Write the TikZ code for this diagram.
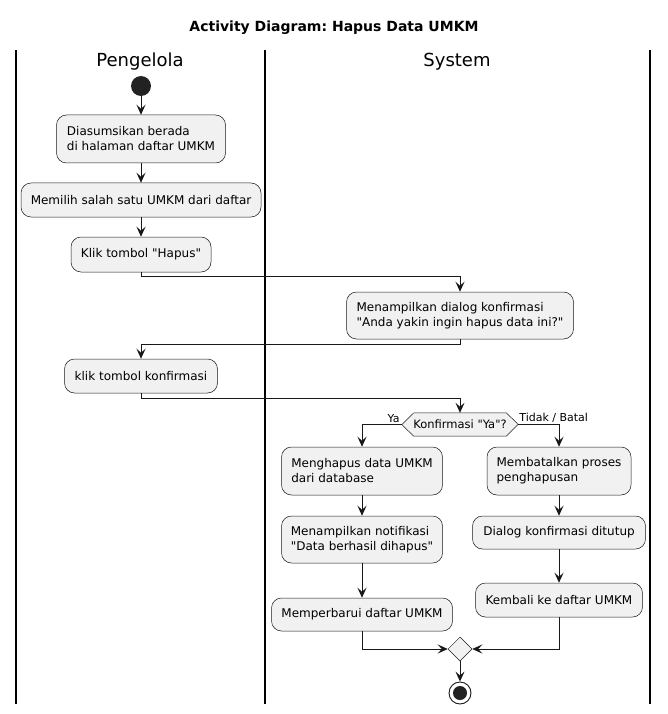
\documentclass[tikz,border=0pt]{standalone}
\usepackage{fontspec}
\setmainfont{DejaVu Sans}
\usetikzlibrary{arrows.meta,calc,shapes.geometric}
\definecolor{actfill}{HTML}{F1F1F1}
\definecolor{ink}{HTML}{181818}
\definecolor{dot}{HTML}{222222}
\newcommand{\qt}{\textquotedbl}
\frenchspacing
\begin{document}
\begin{tikzpicture}[x=1pt,y=-1pt,
  act/.style={draw=ink, fill=actfill, rounded corners=10pt, line width=0.5pt,
    inner sep=0pt, font=\fontsize{12}{15}\selectfont, align=left},
  flow/.style={draw=ink, line width=0.9pt,
    -{Stealth[length=10pt,width=9pt,inset=4pt]}},
  lane/.style={draw=black, line width=1.3pt},
  lanehead/.style={font=\fontsize{18}{20}\selectfont},
  lbl/.style={font=\fontsize{11}{13}\selectfont, inner sep=1pt},
]
\useasboundingbox (0,0) rectangle (668,714);

% title and swimlanes
\node (title) at (334,28) {\fontsize{14}{16}\selectfont\bfseries Activity Diagram: Hapus Data UMKM};
\draw[lane] (16,50) -- (16,704);
\draw[lane] (265,50) -- (265,704);
\draw[lane] (650,50) -- (650,704);
\node[lanehead] (hPeng) at (140,62) {Pengelola};
\node[lanehead] (hSys) at (457,62) {System};

% Pengelola lane
\node[circle, fill=dot, minimum size=20pt, inner sep=0pt] (start) at (141,86) {};
\node[act, minimum width=169pt, minimum height=48pt] (b1) at (141,139)
  {Diasumsikan berada\\di halaman daftar UMKM};
\node[act, minimum width=240pt, minimum height=34pt] (b2) at (141,200)
  {Memilih salah satu UMKM dari daftar};
\node[act, minimum width=140pt, minimum height=35pt] (b3) at (141,254.5)
  {Klik tombol \qt Hapus\qt};
\node[act, minimum width=153pt, minimum height=34pt] (b5) at (141,376)
  {klik tombol konfirmasi};

% System lane
\node[act, minimum width=227pt, minimum height=47pt] (b4) at (460,315.5)
  {Menampilkan dialog konfirmasi\\\qt Anda yakin ingin hapus data ini?\qt};

% decision
\node[minimum width=92pt, minimum height=23pt, inner sep=0pt] (dec) at (460,424.5) {};
\draw[draw=ink, fill=actfill, line width=0.5pt]
  (dec.north west) -- (dec.north east) -- ++(12,11.5) -- (dec.south east)
  -- (dec.south west) -- ++(-12,-11.5) -- cycle;
\node[font=\fontsize{11.5}{13}\selectfont, inner sep=0pt] (decText) at (dec)
  {Konfirmasi \qt Ya\qt?};
\coordinate (decL) at ($(dec.west)+(-12,0)$);
\coordinate (decR) at ($(dec.east)+(12,0)$);

% yes branch
\node[act, minimum width=161pt, minimum height=48pt] (b6) at (362,471)
  {Menghapus data UMKM\\dari database};
\node[act, minimum width=161pt, minimum height=47pt] (b7) at (362,539.5)
  {Menampilkan notifikasi\\\qt Data berhasil dihapus\qt};
\node[act, minimum width=181pt, minimum height=33pt] (b8) at (362,614.5)
  {Memperbarui daftar UMKM};

% no branch
\node[act, minimum width=144pt, minimum height=48pt] (b9) at (559,471)
  {Membatalkan proses\\penghapusan};
\node[act, minimum width=173pt, minimum height=33pt] (b10) at (559,532.5)
  {Dialog konfirmasi ditutup};
\node[act, minimum width=167pt, minimum height=34pt] (b11) at (559,600)
  {Kembali ke daftar UMKM};

% merge and final node
\node[diamond, draw=ink, fill=actfill, line width=0.5pt, minimum size=24pt,
  inner sep=0pt] (merge) at (460,649) {};
\node[circle, draw=ink, fill=white, line width=0.9pt, minimum size=22pt,
  inner sep=0pt] (end) at (460,693) {};
\fill[dot] (end.center) circle (7pt);

% flows
\draw[flow] (start) -- (b1);
\draw[flow] (b1) -- (b2);
\draw[flow] (b2) -- (b3);
\draw[flow] (b3.south) -- ++(0,4) -| (b4.north);
\draw[flow] (b4.south) -- ++(0,5) -| (b5.north);
\draw[flow] (b5.south) -- ++(0,5) -| (dec.north);
\draw[flow] (decL) -| (b6.north);
\draw[flow] (decR) -| (b9.north);
\node[lbl, anchor=south east] (lYa) at ($(decL)+(-1,-1)$) {Ya};
\node[lbl, anchor=south west] (lNo) at ($(decR)+(0,-1)$) {Tidak / Batal};
\draw[flow] (b6) -- (b7);
\draw[flow] (b7) -- (b8);
\draw[flow] (b9) -- (b10);
\draw[flow] (b10) -- (b11);
\draw[flow] (b8.south) |- (merge.west);
\draw[flow] (b11.south) |- (merge.east);
\draw[flow] (merge.south) -- (end.north);
\end{tikzpicture}
\end{document}
